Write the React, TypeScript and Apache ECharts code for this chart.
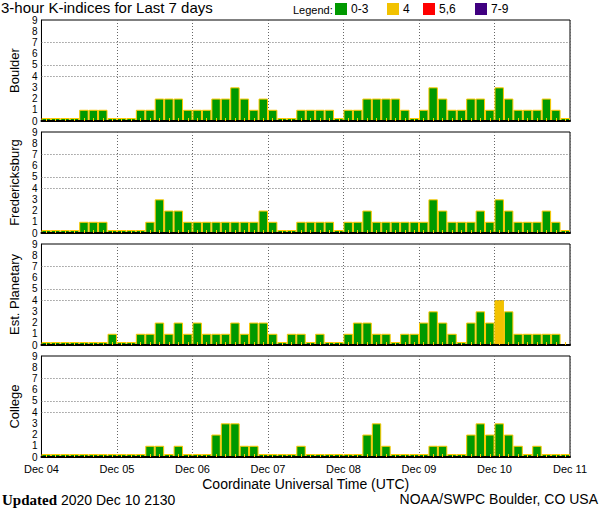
import React, { useEffect, useRef } from "react";
import * as echarts from "echarts";

const dayLabels = ["Dec 04", "Dec 05", "Dec 06", "Dec 07", "Dec 08", "Dec 09", "Dec 10", "Dec 11"];
const hourLabels = ["00", "03", "06", "09", "12", "15", "18", "21"];
const stations = ["Boulder", "Fredericksburg", "Est. Planetary", "College"];

const boulder = [
  0, 0, 0, 0, 1, 1, 1, 0,
  0, 0, 1, 1, 2, 2, 2, 1,
  1, 1, 2, 2, 3, 2, 1, 2,
  1, 0, 0, 1, 1, 1, 1, 0,
  1, 1, 2, 2, 2, 2, 1, 0,
  1, 3, 2, 1, 1, 2, 2, 1,
  3, 2, 1, 1, 1, 2, 1, 0,
];
const fredericksburg = [
  0, 0, 0, 0, 1, 1, 1, 0,
  0, 0, 0, 1, 3, 2, 2, 1,
  1, 1, 1, 1, 1, 1, 1, 2,
  1, 0, 0, 1, 1, 1, 1, 0,
  1, 1, 2, 1, 1, 1, 1, 1,
  1, 3, 2, 1, 1, 1, 2, 1,
  3, 2, 1, 1, 1, 2, 1, 0,
];
const planetary: (number | null)[] = [
  0, 0, 0, 0, 0, 0, 0, 1,
  0, 0, 1, 1, 2, 1, 2, 1,
  2, 1, 1, 1, 2, 1, 2, 2,
  1, 0, 1, 1, 0, 1, 0, 0,
  1, 2, 2, 1, 1, 0, 1, 1,
  2, 3, 2, 1, 0, 2, 3, 2,
  4, 3, 1, 1, 1, 1, 1, null,
];
const college = [
  0, 0, 0, 0, 0, 0, 0, 0,
  0, 0, 0, 1, 1, 0, 1, 0,
  0, 0, 2, 3, 3, 1, 1, 0,
  0, 0, 0, 1, 0, 0, 0, 0,
  0, 0, 2, 3, 1, 0, 0, 0,
  0, 1, 1, 0, 0, 2, 3, 2,
  3, 2, 1, 0, 1, 0, 0, 0,
];
const stationValues = [boulder, fredericksburg, planetary, college];
const gridLevels = [4, 5, 7];
const legendLabels = ["0-3", "4", "5,6", "7-9"];
const legendColors = ["#009900", "#F2C200", "#FF0000", "#400080"];

const categories: string[] = [];
for (let d = 0; d < 7; d++) for (const h of hourLabels) categories.push(`${dayLabels[d]} ${h}`);

const SANS = "Liberation Sans";
const colorFor = (v: number) =>
  v <= 3 ? legendColors[0] : v === 4 ? legendColors[1] : v <= 6 ? legendColors[2] : legendColors[3];

export default function App() {
  const ref = useRef<HTMLDivElement>(null);
  useEffect(() => {
    if (!ref.current) return;
    const chart = echarts.init(ref.current, null, { renderer: "svg" });
    const grids: any[] = [];
    const xAxes: any[] = [];
    const yAxes: any[] = [];
    const series: any[] = [];
    stations.forEach((name, i) => {
      grids.push({
        left: 37, top: 20 + 112 * i, width: 533, height: 101,
        show: true, borderColor: "#000", borderWidth: 1, backgroundColor: "transparent",
      });
      xAxes.push({
        type: "category", gridIndex: i, data: categories, position: "bottom", z: 5,
        axisLine: { show: true, lineStyle: { color: "#000", width: 2 } },
        axisTick: { show: true, inside: true, length: 3, interval: 0, alignWithLabel: true, lineStyle: { color: "#FFC800", width: 1 } },
        axisLabel: { show: false },
        splitLine: { show: false },
      });
      xAxes.push({
        type: "value", gridIndex: i, min: 0, max: 7, interval: 1, position: "bottom",
        axisLine: { show: false }, axisTick: { show: false },
        axisLabel: {
          show: i === 3, formatter: (v: number) => dayLabels[v] ?? "",
          fontSize: 11, color: "#000", margin: 6, fontFamily: SANS,
        },
        splitLine: { show: true, lineStyle: { type: [1, 2], color: "#666", width: 1 } },
        name: i === 3 ? "Coordinate Universal Time (UTC)" : "",
        nameLocation: "middle", nameGap: 20,
        nameTextStyle: { fontSize: 14, color: "#000", fontFamily: SANS },
      });
      yAxes.push({
        type: "value", gridIndex: i, min: 0, max: 9, interval: 1,
        name, nameLocation: "middle", nameGap: 19,
        nameTextStyle: { fontSize: 13, color: "#000", fontFamily: SANS },
        axisLine: { show: true, lineStyle: { color: "#000", width: 1 } },
        axisTick: { show: false },
        axisLabel: { fontSize: 10, lineHeight: 10, color: "#000", margin: 4, fontFamily: SANS },
        splitLine: { show: false },
      });
      series.push({
        type: "bar", name, xAxisIndex: 2 * i, yAxisIndex: i,
        data: stationValues[i].map((v) =>
          v == null ? "-" : { value: v, itemStyle: { color: colorFor(v), borderColor: v === 4 ? legendColors[1] : "#FFC800" } }
        ),
        barCategoryGap: "0%", barMinHeight: 3,
        itemStyle: { borderColor: "#FFC800", borderWidth: 1 },
        markLine: {
          silent: true, symbol: "none", label: { show: false },
          lineStyle: { type: [1, 2], color: "#666", width: 1 },
          data: gridLevels.map((l) => ({ yAxis: l })),
        },
      });
    });

    const graphic: any[] = [
      { type: "text", left: 1, top: 0, style: { text: "3-hour K-indices for Last 7 days", font: `15px ${SANS}`, lineHeight: 15, fill: "#000" } },
      { type: "text", left: 293, top: 4, style: { text: "Legend:", font: `11px ${SANS}`, lineHeight: 11, fill: "#000" } },
    ];
    const legendX = [335, 387, 423, 475];
    legendLabels.forEach((lab, k) => {
      graphic.push({ type: "rect", shape: { x: legendX[k], y: 3, width: 12, height: 12 }, style: { fill: legendColors[k] } });
      graphic.push({ type: "text", left: legendX[k] + 16, top: 3, style: { text: lab, font: `12px ${SANS}`, lineHeight: 12, fill: "#000" } });
    });
    graphic.push({
      type: "text", left: 2, top: 492,
      style: {
        text: "{b|Updated} 2020 Dec 10 2130",
        font: `14px ${SANS}`, fill: "#000",
        rich: { b: { fontFamily: "Liberation Serif", fontWeight: "bold", fontSize: 15 } },
      },
    });
    graphic.push({ type: "text", right: 2, top: 492, style: { text: "NOAA/SWPC Boulder, CO USA", font: `14px ${SANS}`, fill: "#000" } });

    chart.setOption({
      animation: false,
      backgroundColor: "#fff",
      grid: grids,
      xAxis: xAxes,
      yAxis: yAxes,
      series,
      graphic,
    });
    return () => chart.dispose();
  }, []);
  return <div ref={ref} style={{ position: "absolute", left: 0, top: 0, width: 600, height: 510 }} />;
}
